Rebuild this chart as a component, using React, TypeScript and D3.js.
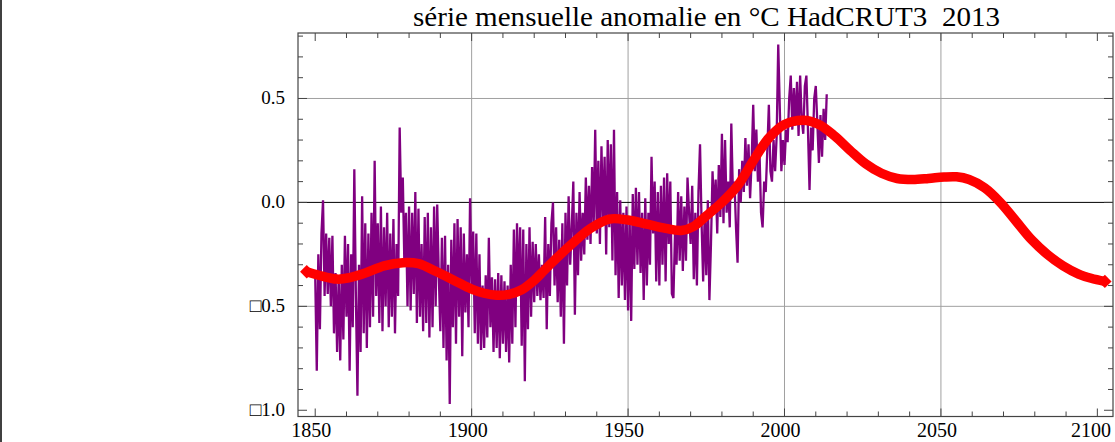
import React from "react";
import * as d3 from "d3";

const TITLE = "série mensuelle anomalie en °C HadCRUT3  2013";

const xMajorTicks = [1850, 1900, 1950, 2000, 2050, 2100];
const xTickLabels = ["1850", "1900", "1950", "2000", "2050", "2100"];
const xGridYears = [1900, 1950, 2000, 2050];
const yMajorTicks = [0.5, 0.0, -0.5, -1.0];
const yTickLabels = ["0.5", "0.0", "\u25A10.5", "\u25A11.0"];
const yGridValues = [0.5, -0.5];

const anomalyStart = 1850;
const anomalyStep = 0.5;
const anomalies = [
  // 1850s
  -0.35, -0.81, -0.25, -0.61, -0.15, 0.01, -0.45, -0.15, -0.44, -0.17,
  -0.50, -0.16, -0.63, -0.34, -0.72, -0.36, -0.76, -0.30, -0.66, -0.16,
  // 1860s
  -0.55, -0.20, -0.81, -0.25, -0.60, 0.16, -0.45, -0.93, -0.30, -0.72,
  0.03, -0.63, -0.10, -0.70, -0.15, -0.60, -0.05, -0.55, 0.20, -0.45,
  // 1870s
  -0.10, -0.58, -0.02, -0.62, -0.12, -0.50, -0.05, -0.60, -0.15, -0.55,
  -0.08, -0.63, -0.20, -0.45, 0.36, -0.05, 0.12, -0.30, -0.05, -0.50,
  // 1880s
  -0.02, -0.52, -0.05, -0.44, 0.05, -0.58, -0.03, -0.55, -0.20, -0.62,
  -0.07, -0.58, -0.05, -0.65, -0.12, -0.60, -0.02, -0.50, -0.01, -0.35,
  // 1890s
  -0.62, -0.17, -0.70, -0.16, -0.76, -0.30, -0.97, -0.18, -0.60, -0.10,
  -0.68, -0.08, -0.55, -0.12, -0.74, -0.15, -0.53, -0.25, -0.60, 0.02,
  // 1900s
  -0.40, -0.14, -0.63, -0.15, -0.68, -0.25, -0.71, -0.40, -0.70, -0.35,
  -0.65, -0.17, -0.60, -0.36, -0.72, -0.37, -0.70, -0.34, -0.75, -0.35,
  // 1910s
  -0.68, -0.38, -0.72, -0.40, -0.77, -0.30, -0.68, -0.13, -0.60, -0.10,
  -0.45, -0.12, -0.69, -0.13, -0.86, -0.20, -0.61, -0.12, -0.55, -0.19,
  // 1920s
  -0.48, -0.20, -0.45, -0.25, -0.47, -0.30, -0.46, -0.07, -0.61, -0.20,
  -0.45, -0.10, 0.00, -0.40, -0.12, -0.48, -0.18, -0.55, -0.10, -0.68,
  // 1930s
  -0.05, -0.40, 0.03, -0.30, -0.12, 0.10, -0.54, -0.05, -0.35, 0.05,
  -0.28, -0.05, -0.25, 0.12, -0.18, 0.08, -0.20, 0.17, -0.12, 0.35,
  // 1940s
  -0.15, 0.20, -0.20, 0.27, -0.10, 0.22, -0.25, 0.30, -0.12, 0.28,
  -0.28, 0.35, -0.35, 0.05, -0.46, 0.01, -0.40, -0.05, -0.47, -0.02,
  // 1950s
  -0.52, -0.07, -0.57, 0.04, -0.32, 0.07, -0.30, 0.05, -0.34, -0.05,
  -0.47, 0.02, -0.40, -0.05, -0.30, 0.22, -0.15, 0.10, -0.38, 0.05,
  // 1960s
  -0.40, 0.08, -0.30, 0.12, -0.38, 0.14, -0.20, 0.10, -0.44, -0.46,
  -0.15, -0.30, 0.05, -0.28, 0.03, -0.33, -0.02, -0.28, 0.12, -0.05,
  // 1970s
  -0.20, 0.08, -0.37, -0.05, -0.40, 0.05, 0.28, -0.10, -0.38, -0.05,
  -0.35, 0.01, -0.47, -0.20, 0.15, -0.05, 0.11, -0.15, 0.18, -0.07,
  // 1980s
  0.33, -0.10, 0.30, -0.05, 0.10, -0.12, 0.38, 0.05, 0.10, -0.12,
  -0.29, 0.16, 0.00, 0.20, 0.05, 0.31, 0.08, 0.28, 0.02, 0.20,
  // 1990s
  0.47, 0.15, 0.35, 0.10, 0.25, -0.05, -0.12, 0.10, 0.05, 0.25,
  0.47, 0.15, 0.10, 0.30, 0.15, 0.32, 0.76, 0.45, 0.15, 0.30,
  // 2000s
  0.18, 0.35, 0.29, 0.50, 0.61, 0.35, 0.55, 0.37, 0.58, 0.32,
  0.61, 0.40, 0.33, 0.56, 0.61, 0.35, 0.06, 0.36, 0.25, 0.50,
  // 2010s
  0.56, 0.38, 0.19, 0.42, 0.22, 0.45, 0.30, 0.52,
];

// smooth red fit curve
const trendYears = [
  1847.3, 1851, 1857, 1861, 1866, 1872, 1878, 1883, 1889, 1895, 1900, 1904,
  1908, 1912, 1916, 1920, 1923, 1926, 1932, 1938, 1944, 1950, 1956, 1962,
  1967, 1971, 1975, 1980, 1985, 1990, 1995, 2000, 2006, 2011, 2016, 2021,
  2026, 2031, 2036, 2041, 2046, 2051, 2055, 2059, 2064, 2069, 2074, 2079,
  2084, 2089, 2094, 2098, 2102.4,
];
const trendValues = [
  -0.334, -0.35, -0.369, -0.362, -0.34, -0.305, -0.29, -0.295, -0.335, -0.38,
  -0.417, -0.437, -0.447, -0.442, -0.42, -0.375, -0.33, -0.285, -0.2, -0.125,
  -0.08, -0.085, -0.105, -0.125, -0.135, -0.115, -0.065, 0.0, 0.08, 0.2,
  0.31, 0.375, 0.395, 0.375, 0.32, 0.25, 0.185, 0.14, 0.115, 0.11,
  0.115, 0.122, 0.123, 0.11, 0.07, 0.0, -0.09, -0.18, -0.25, -0.305,
  -0.345, -0.365, -0.38,
];

const W = 1115;
const H = 442;
const left = 298;
const right = 1113;
const top = 33;
const bottom = 416.5;

export default function App() {
  const x = d3.scaleLinear().domain([1844.5, 2105]).range([left, right]);
  const y = d3.scaleLinear().domain([-1.03, 0.815]).range([bottom, top]);

  const series = anomalies.map((v, i) => [anomalyStart + i * anomalyStep, v] as [number, number]);
  const trend = trendYears.map((t, i) => [t, trendValues[i]] as [number, number]);

  const line = d3
    .line<[number, number]>()
    .x((d) => x(d[0]))
    .y((d) => y(d[1]));
  const smooth = d3
    .line<[number, number]>()
    .curve(d3.curveCatmullRom.alpha(0.5))
    .x((d) => x(d[0]))
    .y((d) => y(d[1]));

  const xMinor = d3.range(1850, 2101, 10).filter((t) => t % 50 !== 0);
  const yMinor = d3.range(-10, 9, 1).map((v) => v / 10).filter((v) => Math.abs((v * 10) % 5) > 1e-6);

  const frame = "#444";
  const grid = "#a0a0a0";
  const font = "'Liberation Serif', 'Times New Roman', serif";

  const first = trend[0];
  const last = trend[trend.length - 1];
  const diamond = d3.symbol().type(d3.symbolSquare).size(90)();

  return (
    <svg
      width={W}
      height={H}
      style={{ position: "absolute", left: 0, top: 0, background: "#fff" }}
    >
      <rect x={0} y={0} width={W} height={H} fill="#fff" />
      <line x1={1} x2={1} y1={0} y2={H} stroke="#000" strokeWidth={1.5} />

      <text
        x={413}
        y={26}
        textLength={587}
        lengthAdjust="spacingAndGlyphs"
        fontFamily={font}
        fontSize={27}
        fill="#000"
        style={{ whiteSpace: "pre" }}
      >
        {TITLE}
      </text>

      {/* grid */}
      {xGridYears.map((t) => (
        <line key={"gx" + t} x1={x(t)} x2={x(t)} y1={top} y2={bottom} stroke={grid} strokeWidth={1} />
      ))}
      {yGridValues.map((v) => (
        <line key={"gy" + v} x1={left} x2={right} y1={y(v)} y2={y(v)} stroke={grid} strokeWidth={1} />
      ))}
      <line x1={left} x2={right} y1={y(0)} y2={y(0)} stroke="#000" strokeWidth={1} />

      {/* data */}
      <path d={line(series) || ""} fill="none" stroke="#800080" strokeWidth={2.3} strokeLinejoin="miter" />
      <path d={smooth(trend) || ""} fill="none" stroke="#ff0000" strokeWidth={9.5} strokeLinecap="butt" />
      <path d={diamond} fill="#ff0000" transform={`translate(${x(first[0])},${y(first[1])}) rotate(45)`} />
      <path d={diamond} fill="#ff0000" transform={`translate(${x(last[0])},${y(last[1])}) rotate(45)`} />

      {/* ticks */}
      {xMajorTicks.map((t) => (
        <g key={"xt" + t}>
          <line x1={x(t)} x2={x(t)} y1={bottom} y2={bottom - 8} stroke={frame} />
          <line x1={x(t)} x2={x(t)} y1={top} y2={top + 8} stroke={frame} />
        </g>
      ))}
      {xMinor.map((t) => (
        <g key={"xm" + t}>
          <line x1={x(t)} x2={x(t)} y1={bottom} y2={bottom - 5} stroke={frame} />
          <line x1={x(t)} x2={x(t)} y1={top} y2={top + 5} stroke={frame} />
        </g>
      ))}
      {yMajorTicks.map((v) => (
        <g key={"yt" + v}>
          <line x1={left} x2={left + 9} y1={y(v)} y2={y(v)} stroke={frame} />
          <line x1={right} x2={right - 9} y1={y(v)} y2={y(v)} stroke={frame} />
        </g>
      ))}
      {yMinor.map((v) => (
        <g key={"ym" + v}>
          <line x1={left} x2={left + 5} y1={y(v)} y2={y(v)} stroke={frame} />
          <line x1={right} x2={right - 5} y1={y(v)} y2={y(v)} stroke={frame} />
        </g>
      ))}

      <rect
        x={left}
        y={top}
        width={right - left}
        height={bottom - top}
        fill="none"
        stroke={frame}
        strokeWidth={1.2}
      />

      {/* labels */}
      {xMajorTicks.map((t, i) => (
        <text
          key={"xl" + t}
          x={Math.min(x(t) - 4, W - 24)}
          y={437}
          textAnchor="middle"
          fontFamily={font}
          fontSize={20}
          fill="#000"
        >
          {xTickLabels[i]}
        </text>
      ))}
      {yMajorTicks.map((v, i) => (
        <text
          key={"yl" + v}
          x={285}
          y={y(v) + 6}
          textAnchor="end"
          fontFamily={font}
          fontSize={19}
          fill="#000"
        >
          {yTickLabels[i]}
        </text>
      ))}
    </svg>
  );
}
